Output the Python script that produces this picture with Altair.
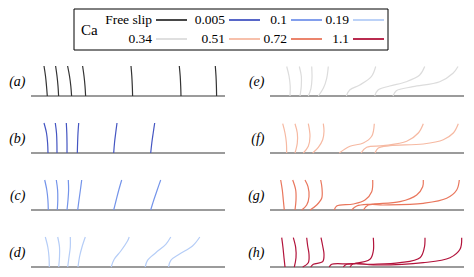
import altair as alt
import pandas as pd

# ---- legend / categories ----
CA_VALUES = ["Free slip", "0.005", "0.1", "0.19", "0.34", "0.51", "0.72", "1.1"]
CA_COLORS = ["#333333", "#4455c2", "#7494ea", "#b5cdf7", "#dcdcdc", "#f6b9a2", "#e9765c", "#b2133b"]
LEGEND_COL = [0, 1, 2, 3, 0, 1, 2, 3]
LEGEND_ROW = [0, 0, 0, 0, 1, 1, 1, 1]
PANEL_TAGS = ["(a)", "(b)", "(c)", "(d)", "(e)", "(f)", "(g)", "(h)"]

# ---- fibre shapes: (x along wall, height above wall), base first ----
FIBERS_A = [
    [(16.3, 0), (15.5, 10), (14.5, 20), (13.0, 30)],
    [(27.6, 0), (27.0, 10), (26.0, 20), (24.6, 30)],
    [(40.6, 0), (39.8, 10), (38.5, 20), (36.6, 30)],
    [(54.6, 0), (54.0, 10), (53.0, 20), (51.6, 30)],
    [(101.6, 0), (101.3, 10), (100.8, 20), (100.0, 30)],
    [(150.0, 0), (149.7, 10), (149.2, 20), (148.3, 30)],
    [(185.6, 0), (185.4, 10), (185.0, 20), (184.3, 30)],
]
FIBERS_B = [
    [(17.0, 0), (16.6, 10), (15.5, 20), (13.0, 30)],
    [(26.0, 0), (25.9, 10), (25.5, 20), (24.3, 30)],
    [(36.0, 0), (36.0, 10), (35.8, 20), (35.3, 30)],
    [(46.3, 0), (46.6, 10), (47.0, 20), (47.7, 30)],
    [(82.7, 0), (83.5, 10), (84.7, 20), (86.0, 30)],
    [(119.7, 0), (120.8, 10), (122.2, 20), (123.7, 30)],
]
FIBERS_C = [
    [(17.3, 0), (16.9, 10), (15.8, 20), (13.7, 30)],
    [(26.3, 0), (26.8, 10), (26.6, 20), (25.3, 30)],
    [(36.0, 0), (37.0, 10), (37.6, 20), (37.3, 30)],
    [(46.7, 0), (48.0, 10), (49.4, 20), (50.7, 30)],
    [(82.7, 0), (85.2, 10), (87.8, 20), (90.7, 30)],
    [(119.7, 0), (122.8, 10), (126.2, 20), (129.7, 30)],
]
FIBERS_D = [
    [(18.3, 0), (18.0, 10), (16.8, 20), (14.3, 30)],
    [(27.7, 0), (28.5, 10), (28.5, 20), (26.7, 30)],
    [(36.7, 0), (38.0, 10), (39.3, 20), (39.3, 30)],
    [(47.0, 0), (48.5, 10), (51.0, 20), (54.3, 30)],
    [(80.2, 0), (83.2, 7.7), (89.8, 16), (96.5, 26), (98.2, 30)],
    [(114.2, 0), (116.5, 6.7), (124.8, 14.3), (134.8, 22.7), (139.8, 30)],
    [(137.5, 0), (139.8, 6.7), (148.2, 12.7), (161.5, 21), (168.8, 30)],
]
FIBERS_E = [
    [(20.0, 0), (20.2, 10), (19.0, 20), (16.7, 29.5)],
    [(30.0, 0), (31.3, 10), (31.3, 20), (29.3, 29.5)],
    [(38.3, 0), (41.0, 7.7), (42.0, 17.7), (41.7, 29.5)],
    [(48.3, 0), (53.3, 7.7), (56.7, 17.7), (58.3, 29.5)],
    [(76.3, 0), (79.7, 6), (89.7, 11), (101.3, 19.3), (105.7, 29.5)],
    [(104.7, 0), (108.0, 6), (119.7, 10), (136.3, 14.3), (149.7, 21), (154.7, 29.5)],
    [(123.0, 0), (126.3, 5.3), (143.0, 9.3), (169.7, 14.3), (183.0, 22.7), (188.0, 29.5)],
]
FIBERS_F = [
    [(16.7, 0), (16.4, 10), (15.0, 20), (12.7, 29.3)],
    [(25.0, 0), (27.3, 10), (27.3, 20), (25.0, 29.3)],
    [(33.3, 0), (38.3, 6.7), (40.0, 16.7), (38.3, 29.3)],
    [(42.7, 0), (48.3, 5.7), (52.7, 13.3), (54.0, 21.7), (53.3, 29.3)],
    [(69.3, 0), (80.0, 6.7), (93.3, 10), (101.7, 16.7), (104.3, 29.3)],
    [(91.0, 0), (96.7, 5.7), (113.3, 7.3), (136.7, 11.7), (148.3, 20), (153.3, 29.3)],
    [(105.0, 0), (108.3, 5), (120.0, 7.3), (153.3, 9), (173.3, 13.3), (183.3, 20), (188.3, 29.3)],
]
FIBERS_G = [
    [(14.3, 0), (13.3, 10), (12.3, 20), (10.7, 30)],
    [(25.0, 0), (26.0, 10), (25.7, 20), (22.7, 30)],
    [(31.7, 0), (36.7, 5), (39.0, 13.3), (38.0, 23.3), (35.0, 30)],
    [(40.0, 0), (46.7, 5), (51.7, 11.7), (52.0, 21.7), (50.7, 30)],
    [(64.3, 0), (66.7, 4), (83.3, 6), (95.0, 10), (101.7, 18.3), (102.7, 30)],
    [(81.7, 0), (86.7, 4), (103.3, 6), (130.0, 8.3), (146.7, 15), (152.7, 23.3), (153.3, 30)],
    [(93.3, 0), (98.3, 5), (113.3, 5), (153.3, 6.7), (176.7, 11.7), (186.7, 20), (189.3, 30)],
]
FIBERS_H = [
    [(15.0, 0), (14.0, 9.3), (13.0, 19.3), (11.7, 29.3)],
    [(24.3, 0), (26.0, 9.3), (25.7, 19.3), (23.3, 29.3)],
    [(32.7, 0), (38.3, 4.3), (39.0, 12.7), (37.7, 21), (36.7, 29.3)],
    [(40.7, 0), (43.3, 2.7), (52.7, 5.3), (54.0, 12.7), (52.7, 21), (51.0, 29.3)],
    [(59.3, 0), (61.7, 2.7), (83.3, 3.3), (100.0, 7.7), (103.3, 16), (103.3, 29.3)],
    [(73.3, 0), (76.7, 2.7), (103.3, 2.7), (130.0, 4.3), (150.0, 9.3), (154.3, 19.3), (155.0, 29.3)],
    [(80.0, 0), (83.3, 3.3), (103.3, 2.0), (153.3, 4.3), (180.0, 9.3), (190.0, 17.7), (191.7, 29.3)],
]
PANELS = [FIBERS_A, FIBERS_B, FIBERS_C, FIBERS_D, FIBERS_E, FIBERS_F, FIBERS_G, FIBERS_H]

WALL_LENGTH = 194
FIBER_LENGTH = 30
SERIF = "Liberation Serif"

color_scale = alt.Scale(domain=CA_VALUES, range=CA_COLORS)


def make_panel(i):
    rows = []
    for f, pts in enumerate(PANELS[i]):
        for k, (x, y) in enumerate(pts):
            rows.append({"fiber": f, "k": k, "x": x, "y": y, "Ca": CA_VALUES[i]})
    df = pd.DataFrame(rows)
    xs = alt.Scale(domain=[0, WALL_LENGTH], nice=False, zero=False)
    ys = alt.Scale(domain=[0, FIBER_LENGTH], nice=False, zero=False)
    yaxis = alt.Axis(title=PANEL_TAGS[i], titleAngle=0, titleAlign="right",
                     titleBaseline="middle", titleX=-6, titleY=15,
                     titleFont=SERIF, titleFontStyle="italic",
                     titleFontWeight="normal", titleFontSize=14, titleColor="black",
                     labels=False, ticks=False, domain=False, grid=False)
    wall = alt.Chart(pd.DataFrame({"y": [0]})).mark_rule(
        color="#7a7a7a", strokeWidth=1.5
    ).encode(y=alt.Y("y:Q", scale=ys, axis=yaxis))
    fibers = alt.Chart(df).mark_line(interpolate="catmull-rom", strokeWidth=1.2).encode(
        x=alt.X("x:Q", scale=xs, axis=None),
        y=alt.Y("y:Q", scale=ys, axis=yaxis),
        color=alt.Color("Ca:N", scale=color_scale, legend=None),
        detail="fiber:N",
        order="k:Q",
    )
    return alt.layer(wall, fibers).properties(width=WALL_LENGTH, height=FIBER_LENGTH)


# ---- hand-made legend box (labels to the left of their line samples) ----
BOX_LEFT, BOX_W, BOX_H = 43, 314, 41
leg_df = pd.DataFrame({"Ca": CA_VALUES, "col": LEGEND_COL, "row": LEGEND_ROW})
lx = alt.Scale(domain=[0, 1, 2, 3], range=[BOX_LEFT + 82, BOX_LEFT + 155, BOX_LEFT + 217, BOX_LEFT + 279])
ly = alt.Scale(domain=[0, 1], range=[11, 30])
leg_frame = alt.Chart(pd.DataFrame({"k": [0]})).mark_rect(
    fill=None, stroke="black", strokeWidth=1
).encode(x=alt.value(BOX_LEFT), x2=alt.value(BOX_LEFT + BOX_W), y=alt.value(0), y2=alt.value(BOX_H))
leg_lines = alt.Chart(leg_df).mark_rule(strokeWidth=1.8, x2Offset=31).encode(
    x=alt.X("col:Q", scale=lx, axis=None),
    x2="col:Q",
    y=alt.Y("row:Q", scale=ly, axis=None),
    color=alt.Color("Ca:N", scale=color_scale, legend=None),
)
leg_text = alt.Chart(leg_df).mark_text(
    align="right", dx=-4, font=SERIF, fontSize=13.5, color="black"
).encode(
    x=alt.X("col:Q", scale=lx, axis=None),
    y=alt.Y("row:Q", scale=ly, axis=None),
    text="Ca:N",
)
leg_title = alt.Chart(pd.DataFrame({"t": ["Ca"]})).mark_text(
    align="left", font=SERIF, fontSize=15, color="black"
).encode(x=alt.value(BOX_LEFT + 7), y=alt.value(21), text="t:N")
legend_box = alt.layer(leg_frame, leg_lines, leg_text, leg_title).properties(
    width=BOX_LEFT + BOX_W, height=BOX_H
)

order = [0, 4, 1, 5, 2, 6, 3, 7]
panels = alt.concat(
    *[make_panel(i) for i in order], columns=2,
    spacing={"row": 27, "column": 45}, bounds="flush",
)
chart = alt.vconcat(legend_box, panels, spacing=16, bounds="flush", padding=0).configure_view(stroke=None)

chart.save("out.html", embed_options={"renderer": "svg", "actions": False})
